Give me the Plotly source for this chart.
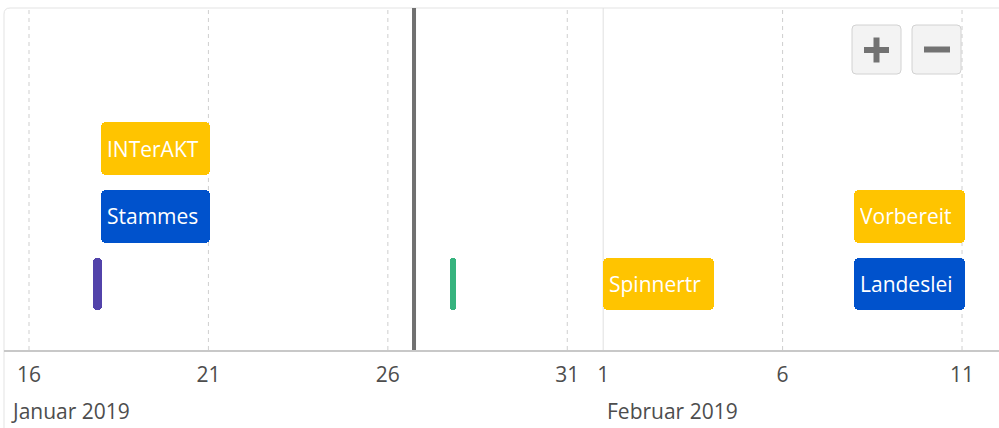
import plotly.graph_objects as go
import pandas as pd

# ---------------- data ----------------
item_labels = ["INTerAKT", "Stammes", "", "", "Spinnertr", "Vorbereit", "Landeslei"]
item_starts = ["2019-01-18 00:00", "2019-01-18 00:00", "2019-01-17 19:00", "2019-01-27 17:30",
               "2019-02-01 00:00", "2019-02-08 00:00", "2019-02-08 00:00"]
item_ends = ["2019-01-21 01:00", "2019-01-21 01:00", "2019-01-18 01:00", "2019-01-27 21:30",
             "2019-02-04 02:00", "2019-02-11 02:00", "2019-02-11 02:00"]
item_rows = [2, 1, 0, 0, 0, 1, 0]
item_kinds = ["gelb", "blau", "lila", "gruen", "gelb", "gelb", "blau"]

tick_dates = ["2019-01-16", "2019-01-21", "2019-01-26", "2019-01-31",
              "2019-02-01", "2019-02-06", "2019-02-11"]
tick_labels = ["16", "21", "26", "31", "1", "6", "11"]
month_starts = ["2019-01-01", "2019-02-01"]
month_labels = ["Januar 2019", "Februar 2019"]

current_time = "2019-01-26 17:30"
view_start = "2019-01-15 07:17"
view_end = "2019-02-12 00:44"

# ---------------- style ----------------
kind_colors = {"gelb": "#FFC400", "blau": "#0052CC", "lila": "#5243AA", "gruen": "#36B37E"}
W, H = 999, 428
ML, MR, MT, MB = 4, 0, 8, 78
PW, PH = W - ML - MR, H - MT - MB
FONT = "Open Sans"
ITEM_SIZE = 21
AXIS_SIZE = 21


def pxx(px):
    return (px - ML) / PW


def pxy(py):
    return (H - MB - py) / PH


def rounded_path(x0, y0, x1, y1, r):
    pts = [
        f"M{pxx(x0 + r)},{pxy(y0)}",
        f"L{pxx(x1 - r)},{pxy(y0)}",
        f"Q{pxx(x1)},{pxy(y0)} {pxx(x1)},{pxy(y0 + r)}",
        f"L{pxx(x1)},{pxy(y1 - r)}",
        f"Q{pxx(x1)},{pxy(y1)} {pxx(x1 - r)},{pxy(y1)}",
        f"L{pxx(x0 + r)},{pxy(y1)}",
        f"Q{pxx(x0)},{pxy(y1)} {pxx(x0)},{pxy(y1 - r)}",
        f"L{pxx(x0)},{pxy(y0 + r)}",
        f"Q{pxx(x0)},{pxy(y0)} {pxx(x0 + r)},{pxy(y0)}",
        "Z",
    ]
    return " ".join(pts)


starts = pd.to_datetime(item_starts)
ends = pd.to_datetime(item_ends)
durations_ms = [(e - s).total_seconds() * 1000 for s, e in zip(starts, ends)]
colors = [kind_colors[k] for k in item_kinds]

fig = go.Figure()
fig.add_trace(go.Bar(
    orientation="h",
    base=item_starts,
    x=durations_ms,
    y=item_rows,
    width=0.78,
    marker=dict(color=colors, cornerradius=5, line=dict(width=0)),
    hoverinfo="skip",
    showlegend=False,
))

v0 = pd.Timestamp(view_start)
v1 = pd.Timestamp(view_end)
px_per_day = PW / ((v1 - v0).total_seconds() / 86400)

annotations = []
for lab, s, e, r in zip(item_labels, starts, ends, item_rows):
    if not lab:
        continue
    wpx = (e - s).total_seconds() / 86400 * px_per_day
    annotations.append(dict(
        x=s, y=r, xref="x", yref="y", text=lab, showarrow=False,
        xanchor="left", yanchor="middle", align="left", xshift=5,
        width=max(10, wpx - 11), borderpad=0,
        font=dict(family=FONT, size=ITEM_SIZE, color="white"),
    ))

for ms, ml in zip(month_starts, month_labels):
    t = pd.Timestamp(ms)
    if t < v0:
        annotations.append(dict(x=pxx(9), xref="paper", y=pxy(411), yref="paper", text=ml,
                                showarrow=False, xanchor="left", yanchor="middle",
                                font=dict(family=FONT, size=AXIS_SIZE, color="#4d4d4d")))
    else:
        annotations.append(dict(x=t, xref="x", y=pxy(411), yref="paper", text=ml,
                                showarrow=False, xanchor="left", yanchor="middle", xshift=2,
                                font=dict(family=FONT, size=AXIS_SIZE, color="#4d4d4d")))

shapes = []
shapes.append(dict(type="path", xref="paper", yref="paper", layer="below",
                   path=f"M{pxx(4)},{pxy(440)} L{pxx(4)},{pxy(14)} Q{pxx(4)},{pxy(8)} {pxx(10)},{pxy(8)} L{pxx(1010)},{pxy(8)}",
                   line=dict(color="#e3e3e3", width=1)))
month_set = set(pd.to_datetime(month_starts))
for td in tick_dates:
    t = pd.Timestamp(td)
    if t in month_set:
        shapes.append(dict(type="line", xref="x", yref="paper", x0=t, x1=t, y0=0, y1=1,
                           layer="below", line=dict(color="#e0e0e0", width=1)))
    else:
        shapes.append(dict(type="line", xref="x", yref="paper", x0=t, x1=t, y0=0, y1=1,
                           layer="below", line=dict(color="#cfcfcf", width=1, dash="4px,4px")))
shapes.append(dict(type="line", xref="x", yref="paper", x0=current_time, x1=current_time,
                   y0=0, y1=1, line=dict(color="#707070", width=4)))
for bx0, bx1 in [(852, 901), (912, 961)]:
    shapes.append(dict(type="path", xref="paper", yref="paper",
                       path=rounded_path(bx0, 25, bx1, 74, 4),
                       fillcolor="#f3f3f3", line=dict(color="#d2d2d2", width=1)))
shapes.append(dict(type="line", xref="paper", yref="paper", x0=pxx(864), x1=pxx(889),
                   y0=pxy(50), y1=pxy(50), line=dict(color="#727272", width=6)))
shapes.append(dict(type="line", xref="paper", yref="paper", x0=pxx(876.5), x1=pxx(876.5),
                   y0=pxy(37.5), y1=pxy(62.5), line=dict(color="#727272", width=6)))
shapes.append(dict(type="line", xref="paper", yref="paper", x0=pxx(924), x1=pxx(950),
                   y0=pxy(49.5), y1=pxy(49.5), line=dict(color="#727272", width=6)))

fig.update_layout(
    width=W, height=H,
    margin=dict(l=ML, r=MR, t=MT, b=MB, pad=0),
    plot_bgcolor="white", paper_bgcolor="white",
    shapes=shapes, annotations=annotations,
    bargap=0,
    xaxis=dict(type="date", range=[view_start, view_end], tickvals=tick_dates, ticktext=tick_labels,
               showgrid=False, zeroline=False, showline=True, linecolor="#c8c8c8", linewidth=1.5,
               ticks="", ticklabelstandoff=5,
               tickfont=dict(family=FONT, size=AXIS_SIZE, color="#4d4d4d"), fixedrange=True),
    yaxis=dict(range=[-0.974, 4.074], visible=False, showgrid=False, zeroline=False, fixedrange=True),
    showlegend=False,
)

fig.write_html("out.html", config={"displayModeBar": False},
               post_script="document.body.style.margin='0';document.body.style.overflow='hidden';")
